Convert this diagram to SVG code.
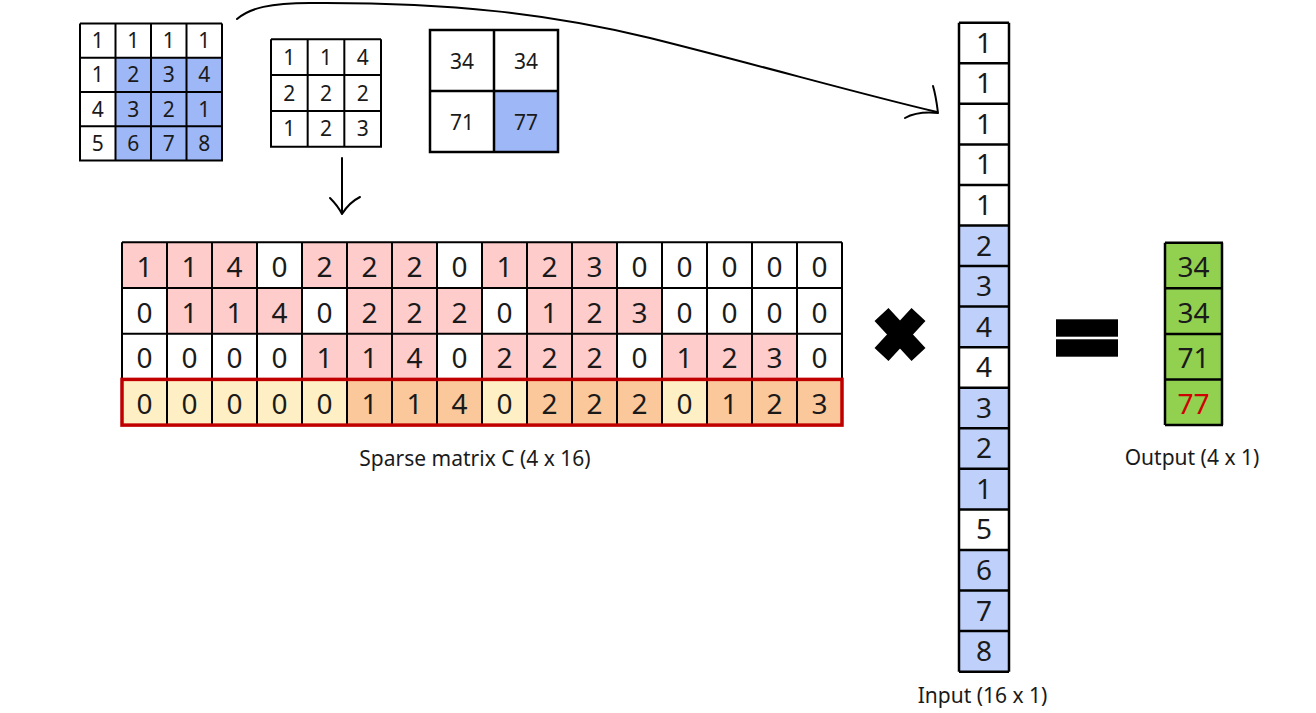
<svg xmlns="http://www.w3.org/2000/svg" width="1316" height="713" viewBox="0 0 1316 713">
<style>
text{font-family:"Noto Sans","Open Sans","DejaVu Sans",sans-serif;fill:#1a1a1a;text-anchor:middle}
.s{font-size:21px}
.b{font-size:28px}
.lbl{font-size:21px}
.grid{fill:none;stroke:#000;stroke-width:2}
.gridb{fill:none;stroke:#000;stroke-width:2.5}
.blue{fill:#9DB7F7}
.lblue{fill:#BFD1FB}
.pink{fill:#FFCCCC}
.yel{fill:#FFEFC4}
.org{fill:#FAC89A}
.grn{fill:#92D050}
.conn{fill:none;stroke:#000;stroke-width:2;stroke-linecap:round;stroke-linejoin:round}
</style>
<rect width="1316" height="713" fill="#fff"/>

<g id="input-matrix">
<rect class="blue" x="115.5" y="57.75" width="106.5" height="102.75"/>
<path class="grid" d="M80,23.5V161.5M115.5,23.5V161.5M151,23.5V161.5M186.5,23.5V161.5M222,23.5V161.5M80,23.5H222M80,57.75H222M80,92H222M80,126.25H222M80,160.5H222"/>
<g class="s">
<text x="97.75" y="48">1</text><text x="133.25" y="48">1</text><text x="168.75" y="48">1</text><text x="204.25" y="48">1</text>
<text x="97.75" y="82.25">1</text><text x="133.25" y="82.25">2</text><text x="168.75" y="82.25">3</text><text x="204.25" y="82.25">4</text>
<text x="97.75" y="116.5">4</text><text x="133.25" y="116.5">3</text><text x="168.75" y="116.5">2</text><text x="204.25" y="116.5">1</text>
<text x="97.75" y="150.75">5</text><text x="133.25" y="150.75">6</text><text x="168.75" y="150.75">7</text><text x="204.25" y="150.75">8</text>
</g>
</g>

<g id="kernel">
<path class="grid" d="M271,39.3V147.7M307.67,39.3V147.7M344.33,39.3V147.7M381,39.3V147.7M271,39.3H381M271,75.1H381M271,110.9H381M271,146.7H381"/>
<g class="s">
<text x="289.3" y="64.8">1</text><text x="326" y="64.8">1</text><text x="362.7" y="64.8">4</text>
<text x="289.3" y="100.6">2</text><text x="326" y="100.6">2</text><text x="362.7" y="100.6">2</text>
<text x="289.3" y="136.4">1</text><text x="326" y="136.4">2</text><text x="362.7" y="136.4">3</text>
</g>
</g>

<g id="output-matrix">
<rect class="blue" x="494" y="91" width="64" height="61"/>
<rect class="gridb" x="430" y="30" width="128" height="122"/>
<path class="gridb" d="M494,30V152M430,91H558"/>
<g class="s">
<text x="462" y="69">34</text><text x="526" y="69">34</text>
<text x="462" y="130">71</text><text x="526" y="130">77</text>
</g>
</g>

<g id="sparse-matrix">
<rect fill="#fff" x="122" y="242.3" width="720" height="182.8"/>
<rect class="pink" x="122" y="242.3" width="135" height="45.7"/>
<rect class="pink" x="302" y="242.3" width="135" height="45.7"/>
<rect class="pink" x="482" y="242.3" width="135" height="45.7"/>
<rect class="pink" x="167" y="288" width="135" height="45.7"/>
<rect class="pink" x="347" y="288" width="135" height="45.7"/>
<rect class="pink" x="527" y="288" width="135" height="45.7"/>
<rect class="pink" x="302" y="333.7" width="135" height="45.7"/>
<rect class="pink" x="482" y="333.7" width="135" height="45.7"/>
<rect class="pink" x="662" y="333.7" width="135" height="45.7"/>
<rect class="yel" x="122" y="379.4" width="720" height="45.7"/>
<rect class="org" x="347" y="379.4" width="135" height="45.7"/>
<rect class="org" x="527" y="379.4" width="135" height="45.7"/>
<rect class="org" x="707" y="379.4" width="135" height="45.7"/>
<path class="grid" d="M122,242.3V425.1M167,242.3V425.1M212,242.3V425.1M257,242.3V425.1M302,242.3V425.1M347,242.3V425.1M392,242.3V425.1M437,242.3V425.1M482,242.3V425.1M527,242.3V425.1M572,242.3V425.1M617,242.3V425.1M662,242.3V425.1M707,242.3V425.1M752,242.3V425.1M797,242.3V425.1M842,242.3V425.1M122,242.3H842M122,288H842M122,333.7H842M122,379.4H842M122,425.1H842"/>
<rect x="122" y="379.4" width="720" height="45.7" fill="none" stroke="#C00000" stroke-width="3.5"/>
<g class="b">
<text x="144.5" y="276.8">1</text><text x="189.5" y="276.8">1</text><text x="234.5" y="276.8">4</text><text x="279.5" y="276.8">0</text><text x="324.5" y="276.8">2</text><text x="369.5" y="276.8">2</text><text x="414.5" y="276.8">2</text><text x="459.5" y="276.8">0</text><text x="504.5" y="276.8">1</text><text x="549.5" y="276.8">2</text><text x="594.5" y="276.8">3</text><text x="639.5" y="276.8">0</text><text x="684.5" y="276.8">0</text><text x="729.5" y="276.8">0</text><text x="774.5" y="276.8">0</text><text x="819.5" y="276.8">0</text>
<text x="144.5" y="322.5">0</text><text x="189.5" y="322.5">1</text><text x="234.5" y="322.5">1</text><text x="279.5" y="322.5">4</text><text x="324.5" y="322.5">0</text><text x="369.5" y="322.5">2</text><text x="414.5" y="322.5">2</text><text x="459.5" y="322.5">2</text><text x="504.5" y="322.5">0</text><text x="549.5" y="322.5">1</text><text x="594.5" y="322.5">2</text><text x="639.5" y="322.5">3</text><text x="684.5" y="322.5">0</text><text x="729.5" y="322.5">0</text><text x="774.5" y="322.5">0</text><text x="819.5" y="322.5">0</text>
<text x="144.5" y="368.2">0</text><text x="189.5" y="368.2">0</text><text x="234.5" y="368.2">0</text><text x="279.5" y="368.2">0</text><text x="324.5" y="368.2">1</text><text x="369.5" y="368.2">1</text><text x="414.5" y="368.2">4</text><text x="459.5" y="368.2">0</text><text x="504.5" y="368.2">2</text><text x="549.5" y="368.2">2</text><text x="594.5" y="368.2">2</text><text x="639.5" y="368.2">0</text><text x="684.5" y="368.2">1</text><text x="729.5" y="368.2">2</text><text x="774.5" y="368.2">3</text><text x="819.5" y="368.2">0</text>
<text x="144.5" y="413.9">0</text><text x="189.5" y="413.9">0</text><text x="234.5" y="413.9">0</text><text x="279.5" y="413.9">0</text><text x="324.5" y="413.9">0</text><text x="369.5" y="413.9">1</text><text x="414.5" y="413.9">1</text><text x="459.5" y="413.9">4</text><text x="504.5" y="413.9">0</text><text x="549.5" y="413.9">2</text><text x="594.5" y="413.9">2</text><text x="639.5" y="413.9">2</text><text x="684.5" y="413.9">0</text><text x="729.5" y="413.9">1</text><text x="774.5" y="413.9">2</text><text x="819.5" y="413.9">3</text>
</g>
<text class="lbl" x="475" y="466">Sparse matrix C (4 x 16)</text>
</g>

<g id="multiply-sign">
<path d="M881.5,314.5L918.5,354.5M918.5,314.5L881.5,354.5" stroke="#000" stroke-width="19" fill="none"/>
</g>

<g id="input-vector">
<rect fill="#fff" x="959" y="22.7" width="50" height="649"/>
<rect class="lblue" x="959" y="225.5" width="50" height="121.7"/>
<rect class="lblue" x="959" y="387.74" width="50" height="121.7"/>
<rect class="lblue" x="959" y="549.98" width="50" height="121.7"/>
<path class="gridb" d="M959,22.7V671.7M1009,22.7V671.7M959,22.7H1009M959,63.26H1009M959,103.82H1009M959,144.38H1009M959,184.94H1009M959,225.5H1009M959,266.06H1009M959,306.62H1009M959,347.18H1009M959,387.74H1009M959,428.3H1009M959,468.86H1009M959,509.42H1009M959,549.98H1009M959,590.54H1009M959,631.1H1009M959,671.66H1009"/>
<g class="b">
<text x="984" y="52.7">1</text><text x="984" y="93.26">1</text><text x="984" y="133.82">1</text><text x="984" y="174.38">1</text><text x="984" y="214.94">1</text><text x="984" y="255.5">2</text><text x="984" y="296.06">3</text><text x="984" y="336.62">4</text><text x="984" y="377.18">4</text><text x="984" y="417.74">3</text><text x="984" y="458.3">2</text><text x="984" y="498.86">1</text><text x="984" y="539.42">5</text><text x="984" y="579.98">6</text><text x="984" y="620.54">7</text><text x="984" y="661.1">8</text>
</g>
<text class="lbl" x="982.5" y="703">Input (16 x 1)</text>
</g>

<g id="equals-sign">
<rect x="1056" y="319.3" width="62" height="17.4" fill="#000"/>
<rect x="1056" y="339.3" width="62" height="17.4" fill="#000"/>
</g>

<g id="output-vector">
<rect class="grn" x="1165" y="242.7" width="57" height="182.4"/>
<path class="gridb" d="M1165,242.7V425.1M1222,242.7V425.1M1165,242.7H1223M1165,288.3H1223M1165,333.9H1223M1165,379.5H1223M1165,425.1H1223"/>
<g class="b">
<text x="1193.5" y="277">34</text><text x="1193.5" y="322.6">34</text><text x="1193.5" y="368.2">71</text><text x="1193.5" y="413.8" style="fill:#D00000">77</text>
</g>
<text class="lbl" x="1192" y="465">Output (4 x 1)</text>
</g>

<g id="connectors">
<path class="conn" d="M237,19C250,8 270,3 310,3C450,2 550,14 650,38C770,68 860,94 937,112"/>
<path class="conn" d="M933,86C936,96 937,105 938,113C927,112 914,113 905,118"/>
<path class="conn" d="M342,158L342,213"/>
<path class="conn" d="M330,198C335,203 339,208 342,214C347,206 352,201 360,197"/>
</g>
</svg>
